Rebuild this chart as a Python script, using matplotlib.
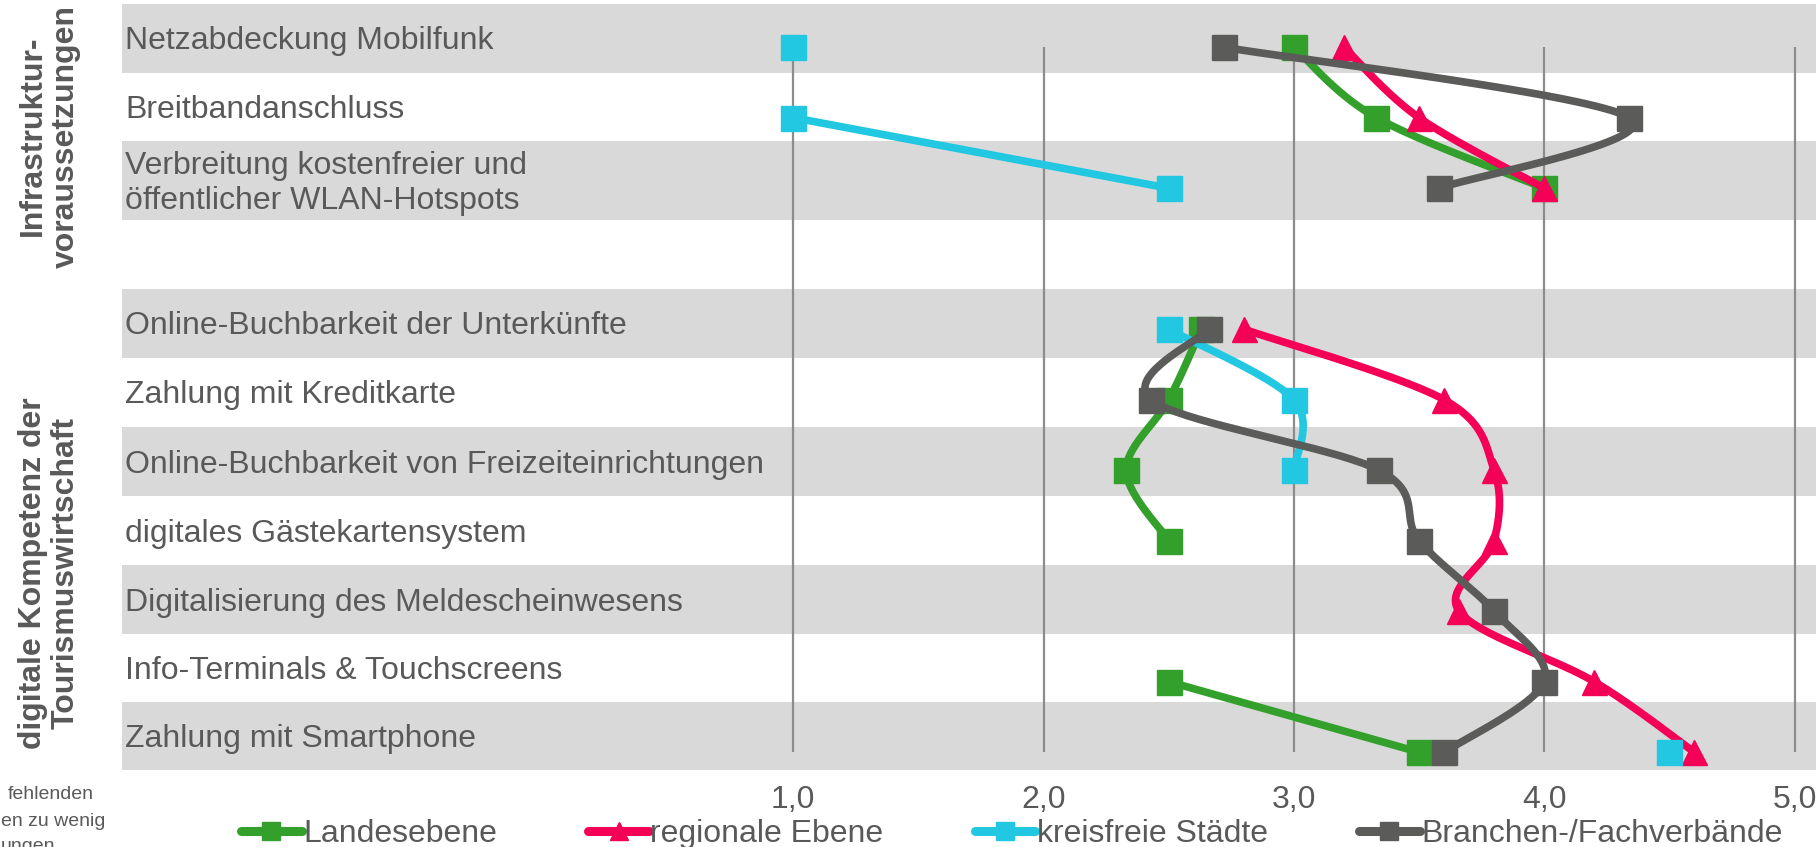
import numpy as np
import matplotlib
matplotlib.use("Agg")
import matplotlib.pyplot as plt
from matplotlib.lines import Line2D

# ---------------- data ----------------
categories = [
    "Netzabdeckung Mobilfunk",
    "Breitbandanschluss",
    "Verbreitung kostenfreier und\nöffentlicher WLAN-Hotspots",
    "",
    "Online-Buchbarkeit der Unterkünfte",
    "Zahlung mit Kreditkarte",
    "Online-Buchbarkeit von Freizeiteinrichtungen",
    "digitales Gästekartensystem",
    "Digitalisierung des Meldescheinwesens",
    "Info-Terminals & Touchscreens",
    "Zahlung mit Smartphone",
]
groups = ["Infrastruktur-\nvoraussetzungen", "digitale Kompetenz der\nTourismuswirtschaft"]
series_names = ["Landesebene", "regionale Ebene", "kreisfreie Städte", "Branchen-/Fachverbände"]
nan = np.nan
landesebene = [3.00, 3.33, 4.00, nan, 2.63, 2.50, 2.33, 2.50, nan, 2.50, 3.50]
regionale = [3.20, 3.50, 4.00, nan, 2.80, 3.60, 3.80, 3.80, 3.66, 4.20, 4.60]
kreisfreie = [1.00, 1.00, 2.50, nan, 2.50, 3.00, 3.00, nan, nan, nan, 4.50]
kreisfreie_breaks = [0]          # no connecting line after these rows
branchen = [2.72, 4.34, 3.58, nan, 2.66, 2.43, 3.34, 3.50, 3.80, 4.00, 3.60]
xticks = [1.0, 2.0, 3.0, 4.0, 5.0]
footnote = ["fehlenden", "en zu wenig", "ungen"]

# ---------------- layout (pixels of the 1816x847 figure) ----------------
W, H = 1816, 847
X0PX, PPU = 543.0, 250.3          # pixel of value 0 and pixels per unit
Y0PX, RPX = 47.2, 70.5            # pixel of first row and row spacing
band_edges_px = [4, 72.7, 140.7, 220, 289, 357.7, 427, 496, 565, 634, 702, 770]
band_left_px = 122
label_x_px = 125

def xd(px):
    return (px - X0PX) / PPU

def yd(py):
    return (py - Y0PX) / RPX

TXT = "#595959"
FONT = "Liberation Sans"
plt.rcParams["font.family"] = [FONT, "DejaVu Sans"]

fig = plt.figure(figsize=(W / 100, H / 100), dpi=100)
ax = fig.add_axes([0, 0, 1, 1])
ax.set_xlim(xd(0), xd(W))
ax.set_ylim(yd(H), yd(0))
ax.axis("off")

# bands
for k in range(len(categories)):
    if k % 2 == 0:
        ax.axhspan(yd(band_edges_px[k]), yd(band_edges_px[k + 1]),
                   xmin=band_left_px / W, xmax=1, color="#D9D9D9", lw=0, zorder=0)

# category labels
for k, lab in enumerate(categories):
    yc = yd((band_edges_px[k] + band_edges_px[k + 1]) / 2 + 3)
    ax.text(xd(label_x_px), yc, lab, ha="left", va="center", fontsize=23,
            color=TXT, linespacing=1.2, zorder=1)

# vertical grid lines
ax.vlines(xticks, 0, len(categories) - 1, color="#8C8C8C", lw=1.6, zorder=1)

# tick labels
for v in xticks:
    ax.text(v, yd(800), f"{v:.1f}".replace(".", ","), ha="center", va="center",
            fontsize=23, color=TXT)

# group labels
ax.text(xd(49), yd(136), groups[0], rotation=90, ha="center", va="center",
        fontsize=23, fontweight="bold", color=TXT, linespacing=1.12,
        multialignment="center")
ax.text(xd(49), yd(573), groups[1], rotation=90, ha="center", va="center",
        fontsize=23, fontweight="bold", color=TXT, linespacing=1.12,
        multialignment="center")

# footnote fragments (cut off at the left edge)
for txt, px, py in zip(footnote, [8, 1, 1], [794, 821, 846]):
    ax.text(xd(px), yd(py), txt, ha="left", va="center", fontsize=14, color=TXT)


def smooth(xs, ys, n=40):
    """Bezier smoothing (Catmull-Rom style, as spreadsheet 'smoothed lines')."""
    P = np.column_stack([np.asarray(xs) * PPU, np.asarray(ys) * RPX])
    if len(P) < 2:
        return np.asarray(xs), np.asarray(ys)
    out = []
    for i in range(len(P) - 1):
        p0 = P[i - 1] if i > 0 else P[i]
        p1, p2 = P[i], P[i + 1]
        p3 = P[i + 2] if i + 2 < len(P) else P[i + 1]
        c1 = p1 + (p2 - p0) / 6.0
        c2 = p2 - (p3 - p1) / 6.0
        t = np.linspace(0, 1, n)[:, None]
        seg = ((1 - t) ** 3) * p1 + 3 * ((1 - t) ** 2) * t * c1 + 3 * (1 - t) * t ** 2 * c2 + t ** 3 * p2
        out.append(seg if i == 0 else seg[1:])
    out = np.vstack(out)
    return out[:, 0] / PPU, out[:, 1] / RPX


def segments(vals, breaks=()):
    segs, cur = [], []
    for i, v in enumerate(vals):
        if np.isnan(v):
            if cur:
                segs.append(cur)
            cur = []
            continue
        cur.append(i)
        if i in breaks:
            segs.append(cur)
            cur = []
    if cur:
        segs.append(cur)
    return segs


colors = ["#33A02C", "#F50057", "#22C8E2", "#5B5B5A"]
markers = ["s", "^", "s", "s"]
all_series = [landesebene, regionale, kreisfreie, branchen]
all_breaks = [(), (), kreisfreie_breaks, ()]
LW, MS = 5.5, 18

handles = []
for z, (vals, col, mk, br, name) in enumerate(zip(all_series, colors, markers, all_breaks, series_names)):
    vals = np.asarray(vals, dtype=float)
    for seg in segments(vals, br):
        idx = np.array(seg, dtype=float)
        sx, sy = smooth(vals[seg], idx)
        ax.plot(sx, sy, color=col, lw=LW, solid_capstyle="round", zorder=3 + z)
        ax.plot(vals[seg], idx, ls="none", marker=mk, ms=MS, color=col,
                markeredgecolor=col, zorder=3 + z)
    handles.append(Line2D([], [], color=col, lw=LW + 1, marker=mk, ms=MS * 0.75,
                          solid_capstyle="round", label=name))

fig.legend(handles=handles, loc="center left",
           bbox_to_anchor=(241 / W, 1 - 834 / H), ncol=4, frameon=False,
           fontsize=23, handlelength=1.9, handletextpad=0.05, columnspacing=2.85,
           borderpad=0, borderaxespad=0, labelcolor=TXT)

fig.savefig("out.png", dpi=100)
